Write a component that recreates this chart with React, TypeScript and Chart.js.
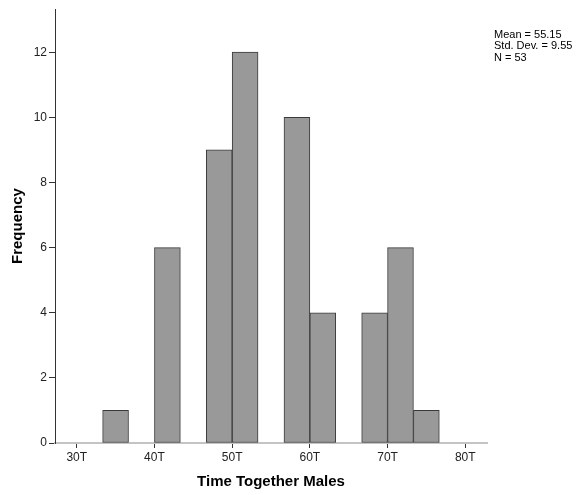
import { useEffect, useRef } from 'react';
import { Chart, registerables } from 'chart.js';

Chart.register(...registerables);

// Histogram bins (lower edge of each non-empty bin) and their counts
const binStarts = [33.33, 40, 46.67, 50, 56.67, 60, 66.67, 70, 73.33];
const binWidth = 3.333;
const frequencies = [1, 6, 9, 12, 10, 4, 4, 6, 1];

// Axis ticks
const xTickValues = [30, 40, 50, 60, 70, 80];
const xTickLabels = ['30T', '40T', '50T', '60T', '70T', '80T'];
const yTickValues = [0, 2, 4, 6, 8, 10, 12];

// Summary statistics shown at the top right
const statsLines = ['Mean = 55.15', 'Std. Dev. = 9.55', 'N = 53'];

const FONT = '"Liberation Sans", Arial, sans-serif';

const statsPlugin = {
  id: 'statsText',
  afterDraw(chart: any) {
    const ctx = chart.ctx;
    ctx.save();
    ctx.font = `11px ${FONT}`;
    ctx.fillStyle = '#000';
    ctx.textAlign = 'left';
    ctx.textBaseline = 'alphabetic';
    const baselines = [37.5, 49.3, 61];
    statsLines.forEach((line, i) => ctx.fillText(line, 494, baselines[i]));
    ctx.restore();
  },
};

export default function App() {
  const canvasRef = useRef<HTMLCanvasElement | null>(null);

  useEffect(() => {
    if (!canvasRef.current) return;
    const chart = new Chart(canvasRef.current, {
      type: 'bar',
      data: {
        datasets: [
          {
            data: binStarts.map((s, i) => ({ x: s + binWidth / 2, y: frequencies[i] })),
            backgroundColor: '#999999',
            borderColor: '#3a3a3a',
            borderWidth: 1,
            borderSkipped: false,
            barPercentage: 1,
            categoryPercentage: 1,
          } as any,
        ],
      },
      options: {
        animation: false,
        responsive: false,
        devicePixelRatio: 1,
        layout: { padding: { top: 6, right: 89, left: 0, bottom: 0 } },
        plugins: {
          legend: { display: false },
          tooltip: { enabled: false },
        },
        scales: {
          x: {
            type: 'linear',
            min: 27.2,
            max: 82.8,
            offset: false,
            grid: {
              display: true,
              drawOnChartArea: false,
              drawTicks: true,
              tickLength: 5,
              color: '#333333',
              offset: false,
            },
            border: { display: true, color: '#c4c4c4', width: 2 },
            ticks: {
              font: { family: FONT, size: 12 },
              color: '#222222',
              padding: 2,
              maxRotation: 0,
              callback: (_v: any, i: number) => xTickLabels[i],
            },
            afterBuildTicks: (scale: any) => {
              scale.ticks = xTickValues.map((v) => ({ value: v }));
            },
            afterFit: (scale: any) => {
              scale.height = 52;
            },
            title: {
              display: true,
              text: 'Time Together Males',
              font: { family: FONT, size: 15, weight: 'bold' },
              color: '#000000',
              padding: { top: 0, bottom: 4.3 },
            },
          },
          y: {
            type: 'linear',
            min: 0,
            max: 13.32,
            grid: {
              display: true,
              drawOnChartArea: false,
              drawTicks: true,
              tickLength: 6,
              color: '#333333',
            },
            border: { display: true, color: '#333333', width: 1 },
            ticks: {
              font: { family: FONT, size: 12 },
              color: '#222222',
              padding: 2,
              callback: (v: any) => String(v),
            },
            afterBuildTicks: (scale: any) => {
              scale.ticks = yTickValues.map((v) => ({ value: v }));
            },
            afterFit: (scale: any) => {
              scale.width = 55;
            },
            title: {
              display: true,
              text: 'Frequency',
              font: { family: FONT, size: 15, weight: 'bold' },
              color: '#000000',
              padding: { top: 8.4, bottom: 0 },
            },
          },
        },
      } as any,
      plugins: [statsPlugin],
    });
    return () => chart.destroy();
  }, []);

  return (
    <div style={{ position: 'absolute', left: 0, top: 0, width: 576, height: 495, background: '#fff' }}>
      <canvas ref={canvasRef} width={576} height={495} style={{ display: 'block' }} />
    </div>
  );
}
